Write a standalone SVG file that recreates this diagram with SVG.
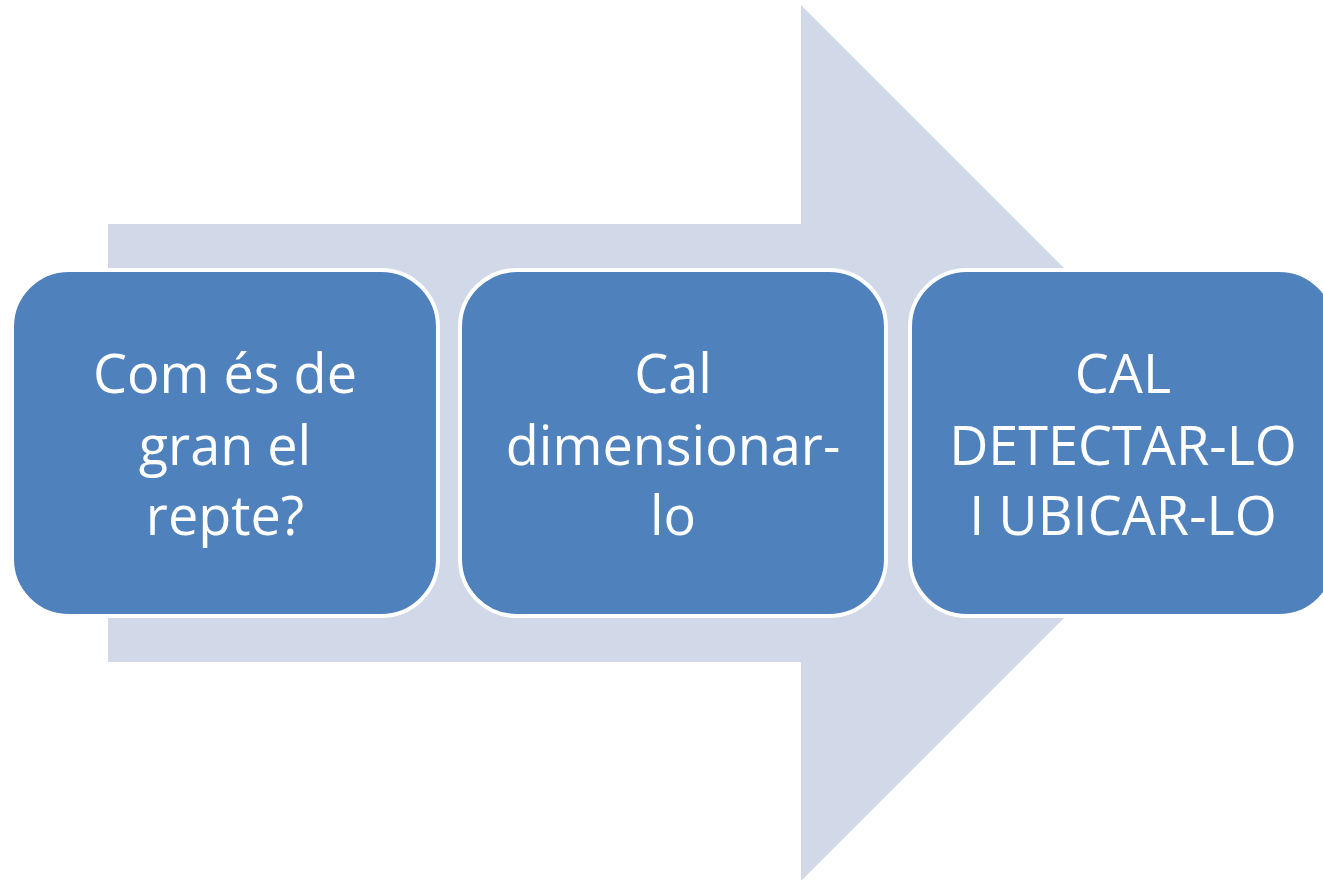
<svg xmlns="http://www.w3.org/2000/svg" width="1323" height="880" viewBox="0 0 1323 880">
<style>
.box{fill:#4F81BD;stroke:#FFFFFF;stroke-width:4}
.t{font-family:"Open Sans","Liberation Sans",sans-serif;font-size:54px;fill:#FFFFFF;text-anchor:middle}
</style>
<rect width="1323" height="880" fill="#FFFFFF"/>
<g id="arrow">
<polygon points="108,224 801,224 801,5 1239,443 801,881 801,662 108,662" fill="#D1D8E7"/>
</g>
<g id="connectors"></g>
<g id="node1">
<rect class="box" x="12" y="270" width="426" height="346" rx="57" ry="57"/>
<text class="t" x="225" y="393">Com és de</text>
<text class="t" x="225" y="465">gran el</text>
<text class="t" x="225" y="535">repte?</text>
</g>
<g id="node2">
<rect class="box" x="460" y="270" width="426" height="346" rx="57" ry="57"/>
<text class="t" x="673" y="393">Cal</text>
<text class="t" x="673" y="465">dimensionar-</text>
<text class="t" x="673" y="535">lo</text>
</g>
<g id="node3">
<rect class="box" x="910" y="270" width="426" height="346" rx="57" ry="57"/>
<text class="t" x="1123" y="393">CAL</text>
<text class="t" x="1123" y="465">DETECTAR-LO</text>
<text class="t" x="1123" y="535">I UBICAR-LO</text>
</g>
</svg>
